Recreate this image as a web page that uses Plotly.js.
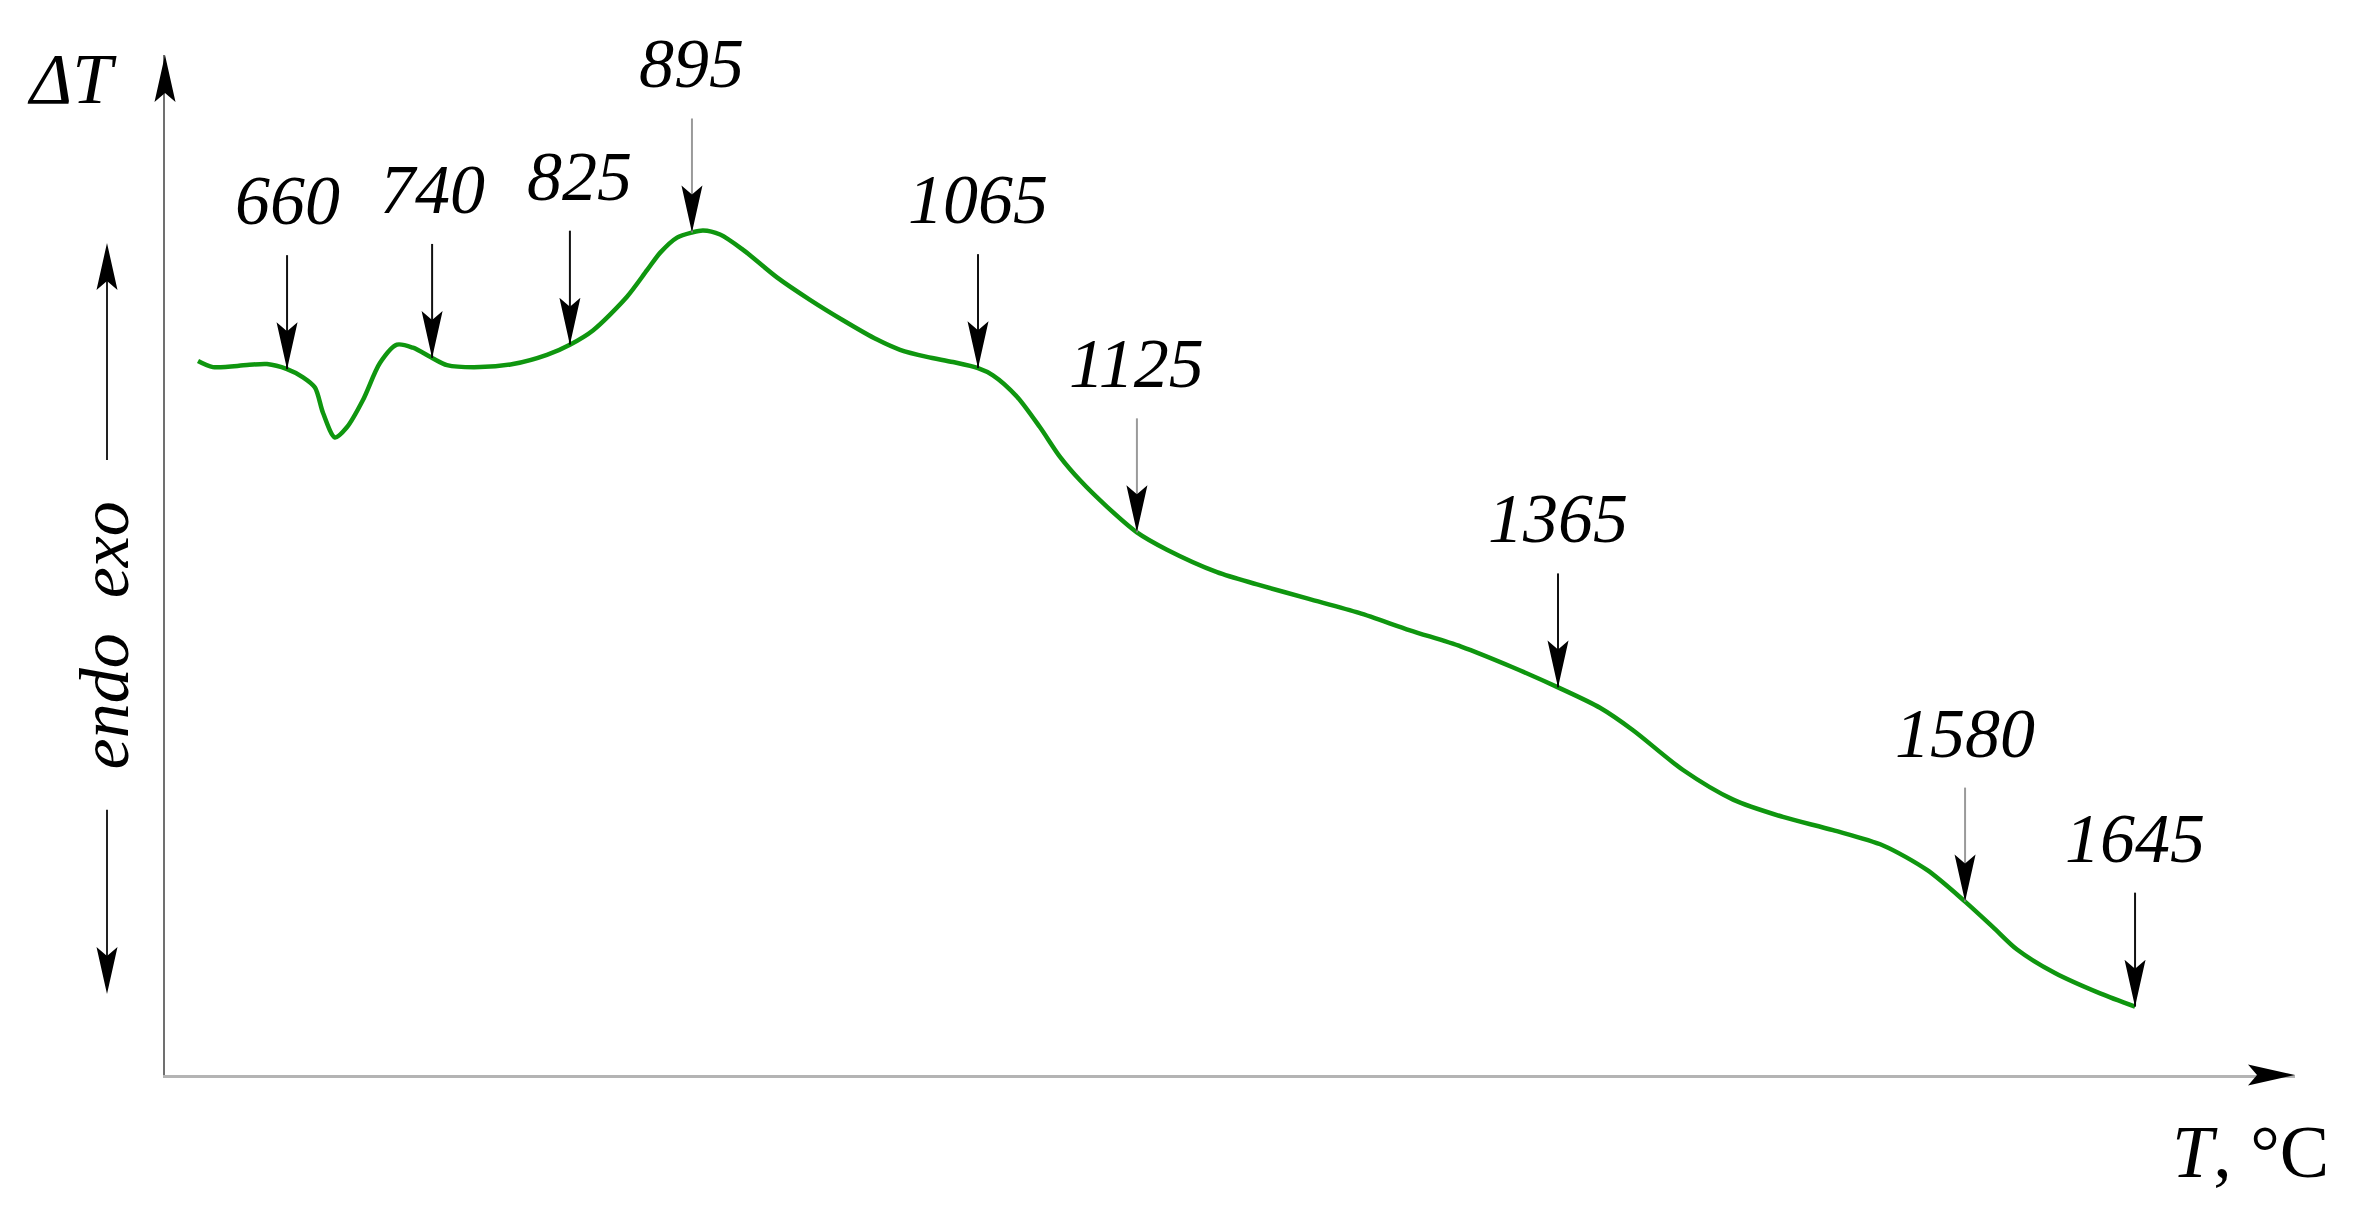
<!DOCTYPE html>
<html>
<head>
<meta charset="utf-8">
<script src="https://cdn.plot.ly/plotly-3.0.1.min.js"></script>
<style>
  html, body { margin: 0; padding: 0; background: #fff; }
  #myGraph { width: 2353px; height: 1212px; }
</style>
</head>
<body>
<div id="myGraph"></div>
<script>
// DTA curve (arbitrary units, the axes carry no ticks)
let curveX = [1.55, 2.25, 3.85, 4.79, 5.73, 6.48, 7.04, 7.42, 7.98, 8.54,
              9.30, 10.09, 10.89, 11.64, 12.54, 13.24, 14.79, 16.34, 17.93, 19.01,
              20.09, 21.69, 22.63, 23.24, 24.04, 24.74, 25.26, 26.06, 27.14, 28.73,
              30.28, 31.83, 33.43, 34.51, 35.77, 36.99, 38.17, 38.87, 40.00, 41.08,
              42.02, 42.96, 44.23, 45.63, 47.04, 49.39, 51.27, 53.66, 56.06, 58.45,
              60.85, 63.24, 65.40, 67.37, 68.92, 71.27, 73.62, 75.96, 78.31, 80.66,
              82.72, 84.51, 85.82, 86.95, 88.73, 90.85, 92.49];
let curveY = [70.0, 69.4, 69.6, 69.7, 69.2, 68.4, 67.4, 64.9, 62.5, 63.5,
              66.2, 69.8, 71.6, 71.3, 70.3, 69.6, 69.4, 69.7, 70.6, 71.6,
              73.0, 76.3, 78.9, 80.6, 82.1, 82.6, 82.8, 82.4, 80.9, 78.2,
              76.0, 74.0, 72.1, 71.1, 70.4, 69.9, 69.3, 68.6, 66.5, 63.5,
              60.6, 58.3, 55.7, 53.2, 51.5, 49.3, 48.1, 46.7, 45.3, 43.6,
              42.0, 40.0, 38.0, 36.0, 33.8, 29.9, 27.0, 25.3, 24.0, 22.5,
              20.1, 17.0, 14.5, 12.3, 10.0, 8.0, 6.7];

// marked temperatures (°C) and the point each arrow touches
let peakLabels = ['660', '740', '825', '895', '1065', '1125', '1365', '1580', '1645'];
let peakX = [5.73, 12.54, 19.01, 24.74, 38.17, 45.63, 65.40, 84.51, 92.49];
let peakY = [69.2, 70.3, 71.6, 82.6, 69.3, 53.2, 38.0, 17.0, 6.7];

// 版面
let W = 2353, H = 1212;
let margin = {l: 165, r: 58, t: 55, b: 137};
let plotW = W - margin.l - margin.r;
let plotH = H - margin.t - margin.b;
let xRange = [0, 100], yRange = [0, 100];
let xPerPx = (xRange[1] - xRange[0]) / plotW;
let yPerPx = (yRange[1] - yRange[0]) / plotH;

let greyArrows = ['895', '1125', '1580'];
let shaftLen = 114;   // px
let labelFont = {family: 'Liberation Serif, serif', size: 70, color: '#000'};

// narrow arrow head, tip at (x, y); sx/sy = units per pixel
function headPath(x, y, dir, sx, sy) {
    let L = 47, w = 10.5, n = 9;
    if (dir === 'down') {
        return 'M' + x + ',' + y + ' L' + (x - w * sx) + ',' + (y + L * sy) +
               ' L' + x + ',' + (y + (L - n) * sy) + ' L' + (x + w * sx) + ',' + (y + L * sy) + ' Z';
    }
    if (dir === 'up') {
        return 'M' + x + ',' + y + ' L' + (x - w * sx) + ',' + (y - L * sy) +
               ' L' + x + ',' + (y - (L - n) * sy) + ' L' + (x + w * sx) + ',' + (y - L * sy) + ' Z';
    }
    // right
    return 'M' + x + ',' + y + ' L' + (x - L * sx) + ',' + (y + w * sy) +
           ' L' + (x - (L - n) * sx) + ',' + y + ' L' + (x - L * sx) + ',' + (y - w * sy) + ' Z';
}

// curve
let trace1 = {
    type: 'scatter',
    mode: 'lines',
    x: curveX,
    y: curveY,
    line: {color: '#0f960f', width: 4.5, shape: 'spline', smoothing: 0.8},
    hoverinfo: 'skip'
};

// arrow shafts
let darkShaft = {type: 'scatter', mode: 'lines', x: [], y: [], line: {color: '#111', width: 2}, hoverinfo: 'skip'};
let greyShaft = {type: 'scatter', mode: 'lines', x: [], y: [], line: {color: '#9a9a9a', width: 2}, hoverinfo: 'skip'};

let shapes = [];
let annotations = [];

for (let i = 0; i < peakLabels.length; i++) {
    let s = greyArrows.includes(peakLabels[i]) ? greyShaft : darkShaft;
    s.x.push(peakX[i], peakX[i], null);
    s.y.push(peakY[i] + shaftLen * yPerPx, peakY[i], null);

    shapes.push({
        type: 'path', xref: 'x', yref: 'y',
        path: headPath(peakX[i], peakY[i], 'down', xPerPx, yPerPx),
        fillcolor: '#000', line: {width: 0}
    });

    annotations.push({
        x: peakX[i], y: peakY[i], xref: 'x', yref: 'y',
        text: '<i>' + peakLabels[i] + '</i>',
        showarrow: false, xanchor: 'center', yanchor: 'bottom', yshift: 128,
        xshift: peakLabels[i] === '825' ? 10 : 0,
        font: labelFont
    });
}

// axis arrow heads (paper coords)
let px = 1 / plotW, py = 1 / plotH;
shapes.push({type: 'path', xref: 'paper', yref: 'paper', path: headPath(0, 1, 'up', px, py), fillcolor: '#000', line: {width: 0}});
shapes.push({type: 'path', xref: 'paper', yref: 'paper', path: headPath(1, 0, 'right', px, py), fillcolor: '#000', line: {width: 0}});

// endo / exo arrows left of the axis
let ex = (107 - margin.l) * px;
shapes.push({type: 'line', xref: 'paper', yref: 'paper', x0: ex, x1: ex, y0: 0.603, y1: 0.80, line: {color: '#222', width: 2}});
shapes.push({type: 'path', xref: 'paper', yref: 'paper', path: headPath(ex, 0.8157, 'up', px, py), fillcolor: '#000', line: {width: 0}});
shapes.push({type: 'line', xref: 'paper', yref: 'paper', x0: ex, x1: ex, y0: 0.26, y1: 0.095, line: {color: '#222', width: 2}});
shapes.push({type: 'path', xref: 'paper', yref: 'paper', path: headPath(ex, 0.0794, 'down', px, py), fillcolor: '#000', line: {width: 0}});

annotations.push({
    xref: 'paper', yref: 'paper', x: (104 - margin.l) * px, y: 0.431,
    text: '<i>endo\u00a0\u00a0exo</i>', textangle: -90,
    showarrow: false, xanchor: 'center', yanchor: 'middle',
    font: labelFont
});
annotations.push({
    xref: 'paper', yref: 'paper', x: (72 - margin.l) * px, y: 0.9765,
    text: '<i>\u0394T</i>',
    showarrow: false, xanchor: 'center', yanchor: 'middle',
    font: {family: 'Liberation Serif, serif', size: 72, color: '#000'}
});
annotations.push({
    xref: 'paper', yref: 'paper', x: 0.979, y: -0.0755,
    text: '<i>T</i>, \u00b0C',
    showarrow: false, xanchor: 'center', yanchor: 'middle',
    font: {family: 'Liberation Serif, serif', size: 74, color: '#000'}
});

let data = [trace1, darkShaft, greyShaft];

let layout = {
    width: W,
    height: H,
    margin: margin,
    paper_bgcolor: '#fff',
    plot_bgcolor: '#fff',
    showlegend: false,
    xaxis: {
        range: xRange, showline: true, linecolor: '#b4b4b4', linewidth: 3,
        showgrid: false, zeroline: false, showticklabels: false, ticks: ''
    },
    yaxis: {
        range: yRange, showline: true, linecolor: '#707070', linewidth: 2,
        showgrid: false, zeroline: false, showticklabels: false, ticks: ''
    },
    shapes: shapes,
    annotations: annotations
};

Plotly.newPlot(document.getElementById('myGraph'), data, layout, {staticPlot: true});
</script>
</body>
</html>
